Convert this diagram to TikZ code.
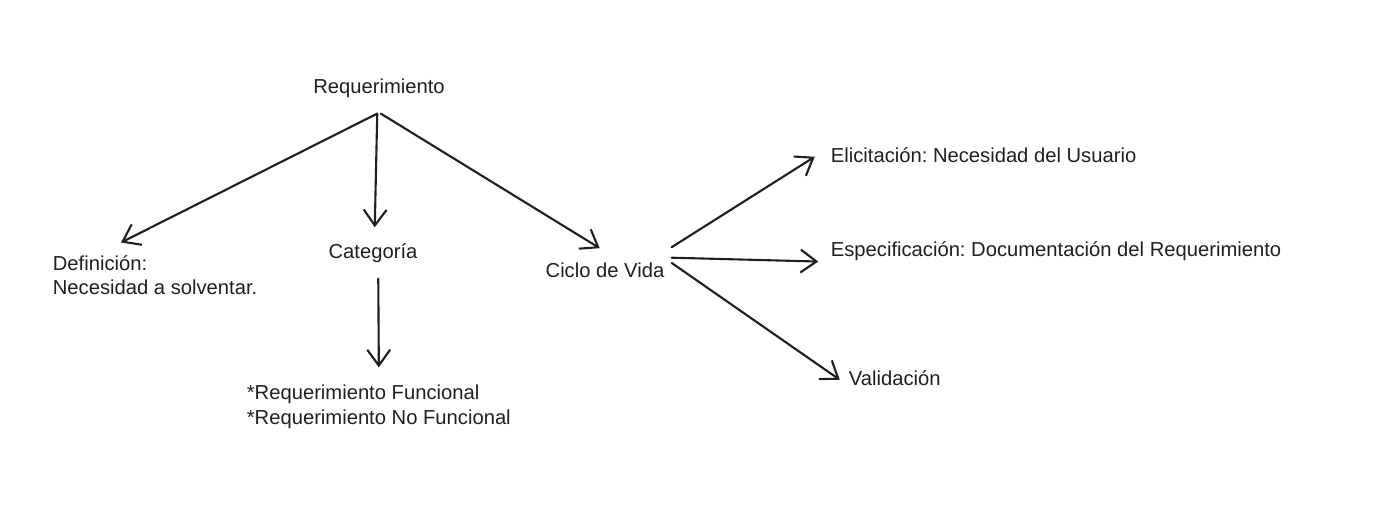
\documentclass[tikz,border=0pt]{standalone}
\usepackage{fontspec}
\setmainfont{Liberation Sans}
\usetikzlibrary{arrows.meta}
\frenchspacing

\begin{document}
\begin{tikzpicture}[x=0.02cm,y=-0.02cm,
  texto/.style={inner sep=2pt,text=black!88,font=\fontsize{11.5}{14}\selectfont},
  flecha/.style={draw=black!88,line width=1.2pt,line cap=round,
    -{Straight Barb[length=9pt,width=13pt,line width=1.2pt]}}]
\useasboundingbox (0,0) rectangle (1394,518);

% Nodes
\node[texto] (req) at (379,88) {Requerimiento};
\node[texto,anchor=west,align=left] (def) at (49,275) {Definición:\\Necesidad a solventar.};
\node[texto] (cat) at (373,253) {Categoría};
\node[texto] (ciclo) at (605,270) {Ciclo de Vida};
\node[texto,anchor=west,align=left] (tipos) at (243,407) {*Requerimiento Funcional\\*Requerimiento No Funcional};
\node[texto,anchor=west] (eli) at (827,155) {Elicitación: Necesidad del Usuario};
\node[texto,anchor=west] (esp) at (827,251) {Especificación: Documentación del Requerimiento};
\node[texto,anchor=west] (val) at (845,378) {Validación};

% Arrows out of Requerimiento
\draw[flecha] ([xshift=-1pt,yshift=-7pt]req.south) -- ([xshift=41pt,yshift=5pt]def.north west);
\draw[flecha] ([xshift=-1pt,yshift=-7pt]req.south) -- ([xshift=1pt,yshift=7pt]cat.north);
\draw[flecha] ([xshift=1pt,yshift=-7pt]req.south) -- ([xshift=-3pt,yshift=6pt]ciclo.north);

% Categoria down to the two kinds
\draw[flecha] ([xshift=3pt,yshift=-7pt]cat.south) -- ([yshift=8pt]tipos.north);

% Arrows out of Ciclo de Vida
\foreach \dest/\dy/\ex/\ey in {eli/13pt/-7pt/-1pt, esp/7pt/-5pt/-6pt, val/4pt/-3pt/-1pt} {
  \draw[flecha] ([xshift=2pt,yshift=\dy]ciclo.east) -- ([xshift=\ex,yshift=\ey]\dest.west);
}

\end{tikzpicture}
\end{document}
